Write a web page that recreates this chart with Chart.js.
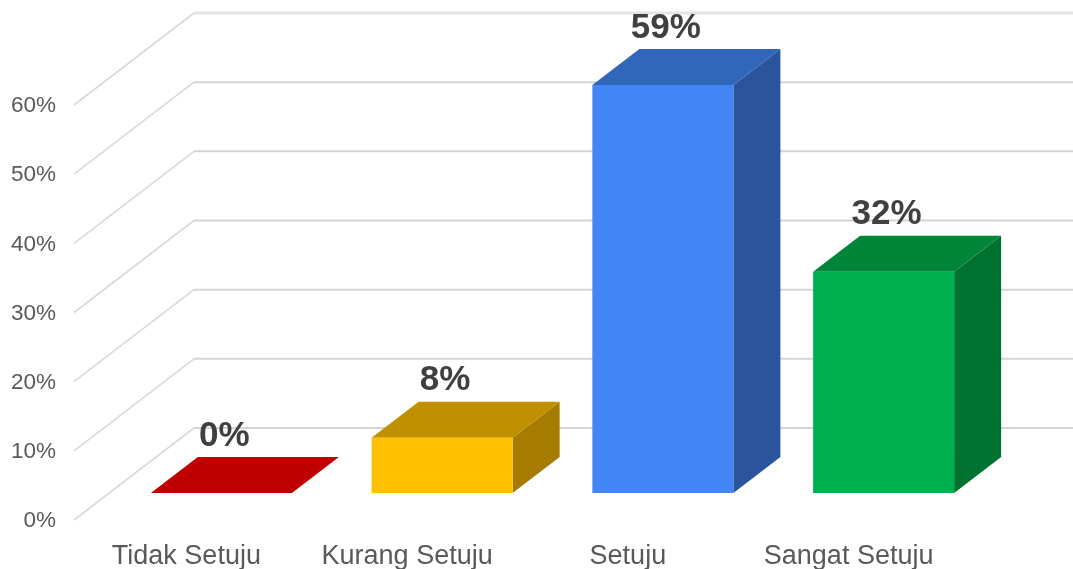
<!DOCTYPE html>
<html><head><meta charset="utf-8">
<style>html,body{margin:0;padding:0;background:#fff}#w{width:1073px;height:569px}</style>
<script src="https://cdn.jsdelivr.net/npm/chart.js@4"></script></head>
<body><div id="w"><canvas id="c"></canvas></div>
<script>
const categories = ["Tidak Setuju","Kurang Setuju","Setuju","Sangat Setuju"];
const values = [0,8,59,32];
const frontColors = ["#c00000","#ffc000","#4285f4","#00b050"];
const topColors = ["#c00000","#c09000","#3266b8","#008539"];
const sideColors = ["#900000","#a67c00","#2a549e","#00722f"];
const yTicks = [0,10,20,30,40,50,60];
const WALL = {dx:120, dy:-92, startX:-2}, BAR_SHIFT = {dx:35, dy:-27}, BAR_DEPTH = {dx:47, dy:-36}, LIFT = 1;
const LABEL_OFFSET = {dx:38, dy:-85};

const threeD = {
  id:'threeD',
  beforeDatasetsDraw(ch){
    const c = ch.ctx, y = ch.scales.y, L = ch.chartArea.left + WALL.startX;
    c.save(); c.lineJoin='round';
    yTicks.forEach(v=>{
      const py = y.getPixelForValue(v)-LIFT;
      c.strokeStyle='#d9d9d9'; c.lineWidth=1.6;
      c.beginPath(); c.moveTo(L,py); c.lineTo(L+WALL.dx,py+WALL.dy); c.stroke();
      c.lineWidth=v===60?3:2; c.strokeStyle=v===60?'#e4e4e4':'#d4d4d4';
      c.beginPath(); c.moveTo(L+WALL.dx,py+WALL.dy); c.lineTo(1073,py+WALL.dy); c.stroke();
    });
    c.restore();
  },
  beforeDatasetDraw(ch,args){
    const c = ch.ctx;
    c.save(); c.translate(BAR_SHIFT.dx,BAR_SHIFT.dy-LIFT);
    args.meta.data.forEach((b,i)=>{
      const p = b.getProps(['x','y','base','width'],true);
      const l=p.x-p.width/2, r=p.x+p.width/2, t=p.y, u=p.base;
      const d=BAR_DEPTH;
      c.fillStyle=sideColors[i];
      c.beginPath(); c.moveTo(r,t); c.lineTo(r+d.dx,t+d.dy); c.lineTo(r+d.dx,u+d.dy); c.lineTo(r,u); c.closePath(); c.fill();
      c.fillStyle=topColors[i];
      c.beginPath(); c.moveTo(l,t); c.lineTo(l+d.dx,t+d.dy); c.lineTo(r+d.dx,t+d.dy); c.lineTo(r,t); c.closePath(); c.fill();
    });
  },
  afterDatasetDraw(ch,args){
    const c = ch.ctx;
    c.restore();
    c.save();
    c.font='bold 35px "Liberation Sans"'; c.fillStyle='#404040'; c.textAlign='center'; c.textBaseline='middle';
    args.meta.data.forEach((b,i)=>{
      const p=b.getProps(['x','y'],true);
      c.fillText(values[i]+'%',p.x+LABEL_OFFSET.dx,p.y+LABEL_OFFSET.dy);
    });
    c.restore();
  }
};

new Chart(document.getElementById('c'),{
  type:'bar',
  data:{labels:categories,datasets:[{data:values,backgroundColor:frontColors,borderWidth:0,
    barPercentage:1,categoryPercentage:141/220.7,clip:false,minBarLength:0}]},
  options:{
    responsive:true,maintainAspectRatio:false,animation:false,
    layout:{padding:{top:106,right:114,left:0,bottom:0}},
    plugins:{legend:{display:false},tooltip:{enabled:false}},
    scales:{
      x:{grid:{display:false},border:{display:false},
        ticks:{color:'#595959',font:{family:'"Liberation Sans"',size:27},maxRotation:0,autoSkip:false,padding:11},
        afterFit(s){s.height=48}},
      y:{min:0,max:60,grid:{display:false},border:{display:false},
        ticks:{stepSize:10,color:'#595959',font:{family:'"Liberation Sans"',size:22.5},padding:12,callback:v=>v+'%'},
        afterFit(s){s.width=76}}
    }
  },
  plugins:[threeD]
});
</script></body></html>
